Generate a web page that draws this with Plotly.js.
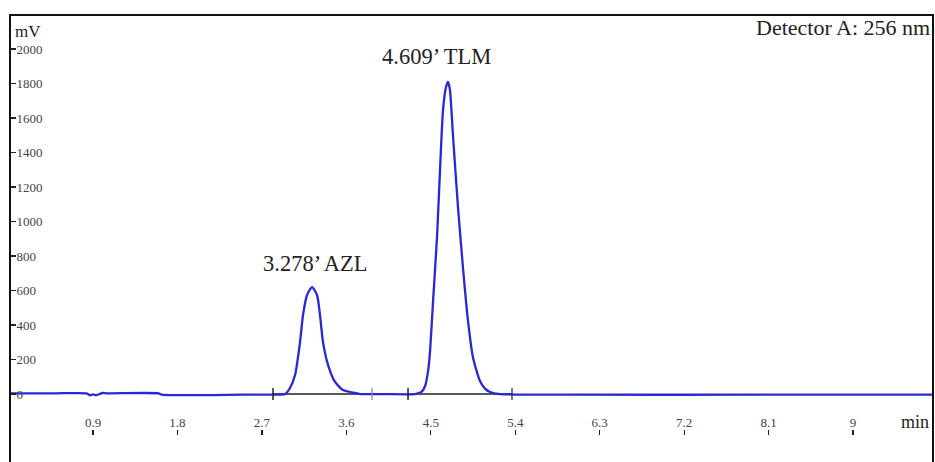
<!DOCTYPE html>
<html>
<head>
<meta charset="utf-8">
<script src="https://cdn.plot.ly/plotly-3.0.1.min.js"></script>
<style>html,body{margin:0;padding:0;background:#fff;}#chart{width:935px;height:462px;}</style>
</head>
<body>
<div id="chart"></div>
<script>
// Chromatogram signal (time in min, response in mV)
const timeMin = [0.015, 0.5, 0.83, 0.87, 0.9, 0.93, 0.97, 1.0, 1.05, 1.6, 1.63, 2.5, 2.9, 2.946,
  2.999, 3.053, 3.106, 3.138, 3.181, 3.234, 3.287, 3.319, 3.351, 3.405, 3.479, 3.564, 3.692, 3.745,
  4.0, 4.332, 4.40, 4.438, 4.47, 4.492, 4.524, 4.567, 4.598, 4.630, 4.662, 4.683, 4.704, 4.736, 4.790,
  4.843, 4.896, 4.950, 5.024, 5.08, 5.131, 5.237, 6.0, 8.0, 9.852];
const signalMv = [4, 4, 4, -7, -2, -7, 0, 6, 4, 4, -4, -4, -3, 0,
  35, 110, 301, 458, 574, 620, 574, 458, 301, 168, 70, 23, 6, 0,
  0, 0, 12, 45, 130, 250, 540, 920, 1300, 1646, 1780, 1809, 1762, 1500, 1080,
  730, 425, 210, 75, 30, 12, 0, -4, -4, -4];

// Peak annotations
const peakNames = ["AZL", "TLM"];
const peakRetention = ["3.278", "4.609"];
const peakLabelTime = [3.266, 4.556];
const peakLabelMv = [759, 1954];

// Integration start / end marks
const integStart = [2.818, 4.257];
const integEnd = [3.873, 5.365];

// Axis ticks
const xTickVals = [0.9, 1.8, 2.7, 3.6, 4.5, 5.4, 6.3, 7.2, 8.1, 9];
const xTickText = ["0.9", "1.8", "2.7", "3.6", "4.5", "5.4", "6.3", "7.2", "8.1", "9"];
const yTickVals = [-200, 0, 200, 400, 600, 800, 1000, 1200, 1400, 1600, 1800, 2000];
const yTickText = ["-200", "0", "200", "400", "600", "800", "1000", "1200", "1400", "1600", "1800", "2000"];

const serif = "Liberation Serif, Times New Roman, serif";

const shapes = [];
for (let i = 0; i < integStart.length; i++) {
  shapes.push({type: "line", xref: "x", yref: "y", x0: integStart[i], x1: integEnd[i], y0: 0, y1: 0,
    line: {color: "#222", width: 1.5}, layer: "below"});
  shapes.push({type: "line", xref: "x", yref: "y", x0: integStart[i], x1: integStart[i], y0: -35, y1: 35,
    line: {color: "#222", width: 1.5}});
  shapes.push({type: "line", xref: "x", yref: "y", x0: integEnd[i], x1: integEnd[i], y0: -35, y1: 35,
    line: {color: i === 0 ? "#888" : "#222", width: 1.2}});
}
shapes.push({type: "rect", xref: "paper", yref: "paper", x0: 0, x1: 1, y0: -0.2, y1: 1,
  line: {color: "#111", width: 2}});

const annotations = peakNames.map((n, i) => ({
  x: peakLabelTime[i], y: peakLabelMv[i], xref: "x", yref: "y",
  text: peakRetention[i] + "\u2019 " + n, showarrow: false,
  font: {family: serif, size: 22.5, color: "#222"}
}));
annotations.push({x: 0.999, y: 0.971, xref: "paper", yref: "paper", xanchor: "right", yanchor: "middle",
  text: "Detector A: 256 nm", showarrow: false, font: {family: serif, size: 22, color: "#222"}});
annotations.push({x: 0.003, y: 0.964, xref: "paper", yref: "paper", xanchor: "left", yanchor: "middle",
  text: "mV", showarrow: false, font: {family: serif, size: 17, color: "#222"}});
annotations.push({x: 0.998, y: 0.0895, xref: "paper", yref: "paper", xanchor: "right", yanchor: "middle",
  text: "min", showarrow: false, font: {family: serif, size: 18, color: "#222"}});

const trace = {
  x: timeMin, y: signalMv, type: "scatter", mode: "lines",
  line: {color: "rgb(40,40,215)", width: 2.3, shape: "spline", smoothing: 0.6},
  hoverinfo: "skip"
};

const layout = {
  width: 935, height: 462,
  margin: {l: 10, r: 2, t: 15, b: 0, pad: 0},
  paper_bgcolor: "#fff", plot_bgcolor: "#fff",
  showlegend: false,
  xaxis: {
    range: [0.015, 9.852], anchor: "free", position: 0.0604,
    showgrid: false, zeroline: false, showline: false,
    tickmode: "array", tickvals: xTickVals, ticktext: xTickText,
    ticks: "inside", ticklen: 5, tickwidth: 1.2, tickcolor: "#222",
    ticklabelposition: "inside",
    tickfont: {family: serif, size: 13, color: "#444"}
  },
  yaxis: {
    range: [-394, 2197],
    showgrid: false, zeroline: false, showline: false,
    tickmode: "array", tickvals: yTickVals, ticktext: yTickText,
    ticks: "inside", ticklen: 6, tickwidth: 1.5, tickcolor: "#222",
    ticklabelposition: "inside",
    tickfont: {family: serif, size: 13, color: "#444"}
  },
  shapes: shapes,
  annotations: annotations
};

Plotly.newPlot("chart", [trace], layout, {staticPlot: true, displayModeBar: false});
</script>
</body>
</html>
